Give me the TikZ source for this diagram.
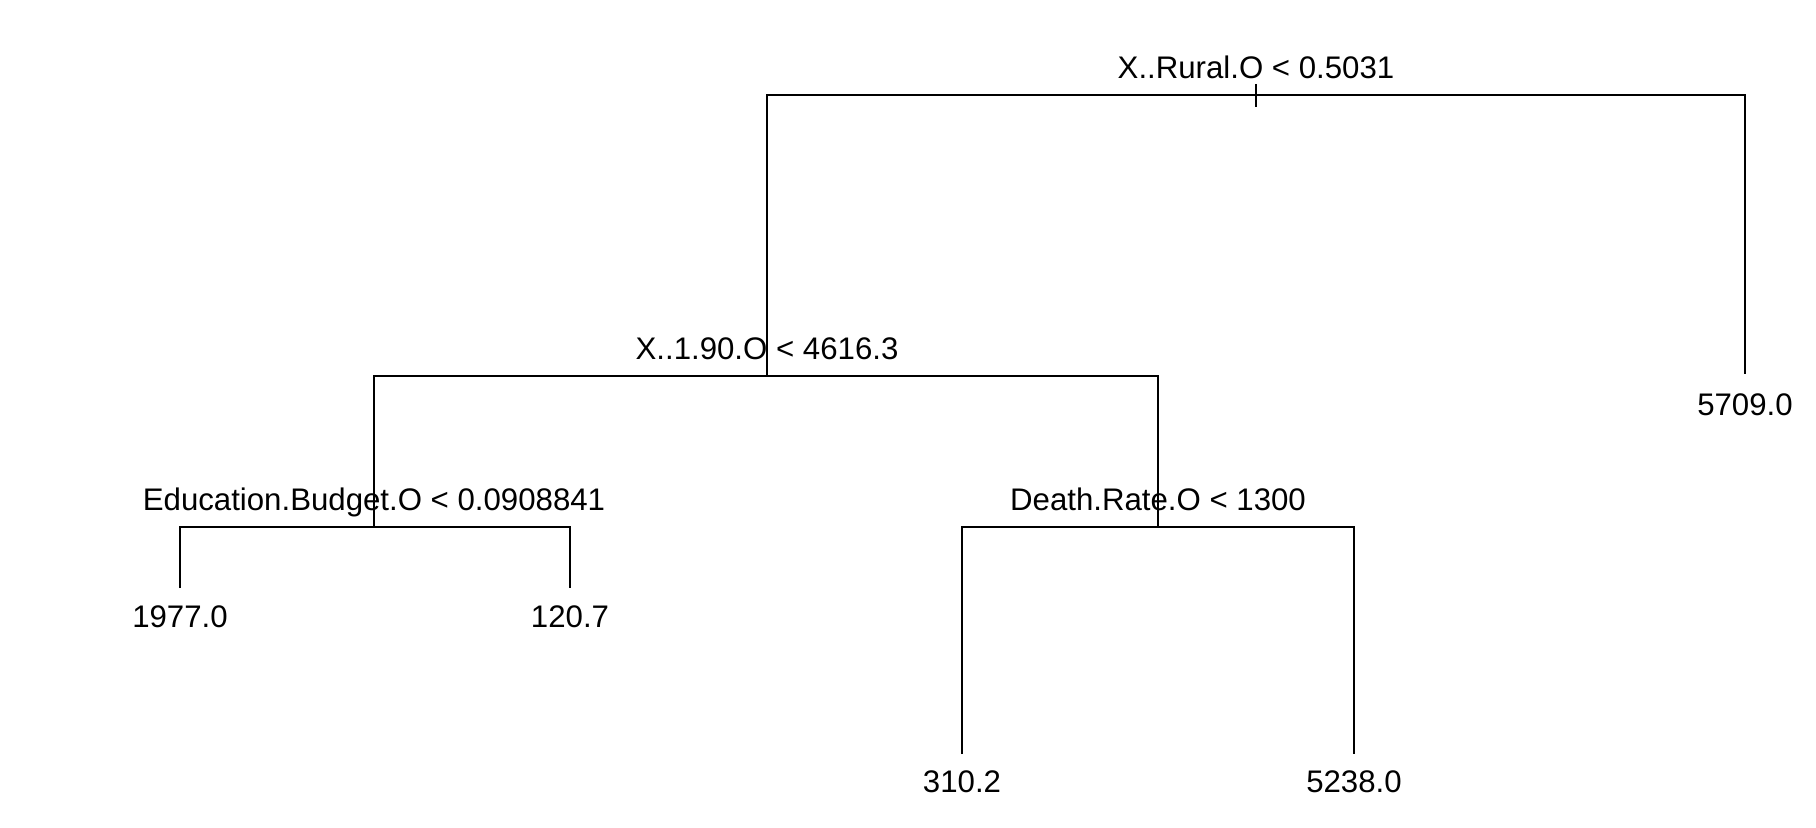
\documentclass[tikz,border=0pt]{standalone}
\usepackage{fontspec}
\setmainfont{Liberation Sans}
\usepackage{tikz}
\usetikzlibrary{positioning}

\begin{document}
\begin{tikzpicture}[
    x=0.5pt, y=-0.5pt,
    font=\fontsize{15.6}{18}\selectfont,
    branch/.style={draw, line width=0.9pt},
    split/.style={anchor=base, inner sep=0pt},
    leaf/.style={anchor=base, inner sep=0pt}
]
    \useasboundingbox (0,0) rectangle (1816,828);

    % Split points
    \coordinate (root) at (1256,95);
    \coordinate (gdp) at (767,376);
    \coordinate (edu) at (374,527);
    \coordinate (death) at (1158,527);

    % Leaf ends
    \coordinate (leaf_r) at (1745,374);
    \coordinate (leaf_a) at (180,588);
    \coordinate (leaf_b) at (570,588);
    \coordinate (leaf_c) at (962,754);
    \coordinate (leaf_d) at (1354,754);

    % Branches
    \draw[branch] (gdp) |- (root) -| (leaf_r);
    \draw[branch] (edu) |- (gdp) -| (death);
    \draw[branch] (leaf_a) |- (edu) -| (leaf_b);
    \draw[branch] (leaf_c) |- (death) -| (leaf_d);
    \draw[branch] ([yshift=5.5pt]root) -- ([yshift=-6pt]root);

    % Split labels
    \node[split] (root_lbl) at ([yshift=8pt]root) {X..Rural.O < 0.5031};
    \node[split] (gdp_lbl) at ([yshift=8pt]gdp) {X..1.90.O < 4616.3};
    \node[split] (edu_lbl) at ([yshift=8pt]edu) {Education.Budget.O < 0.0908841};
    \node[split] (death_lbl) at ([yshift=8pt]death) {Death.Rate.O < 1300};

    % Leaf values
    \node[leaf] (val_r) at ([yshift=-21pt]leaf_r) {5709.0};
    \node[leaf] (val_a) at ([yshift=-19.5pt]leaf_a) {1977.0};
    \node[leaf] (val_b) at ([yshift=-19.5pt]leaf_b) {120.7};
    \node[leaf] (val_c) at ([yshift=-19pt]leaf_c) {310.2};
    \node[leaf] (val_d) at ([yshift=-19pt]leaf_d) {5238.0};
\end{tikzpicture}
\end{document}
